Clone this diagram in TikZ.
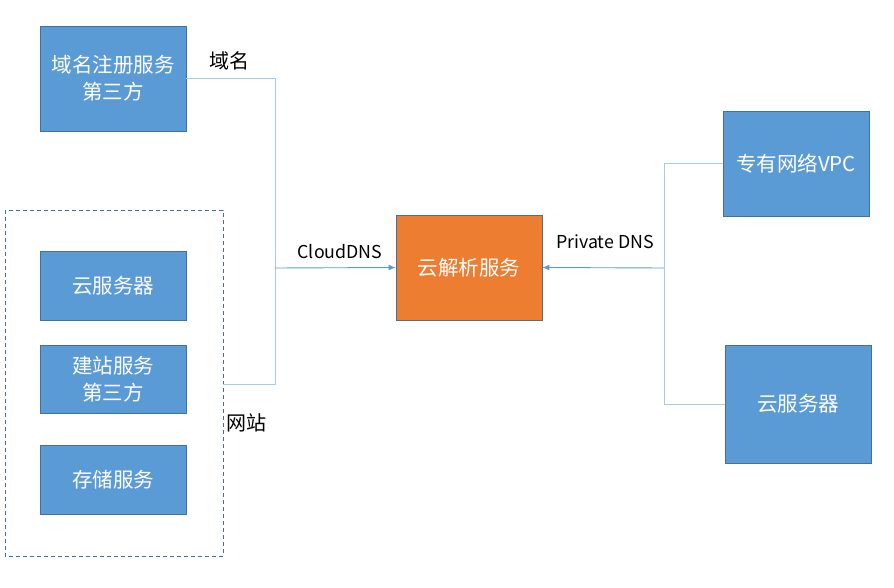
\documentclass[tikz,border=0pt]{standalone}
\usepackage{fontspec}
\setmainfont{Noto Sans CJK SC}
\usetikzlibrary{arrows.meta}
\definecolor{boxblue}{HTML}{5B9BD5}
\definecolor{boxedge}{HTML}{41719C}
\definecolor{boxorange}{HTML}{ED7D31}
\definecolor{linelight}{HTML}{A9CBEA}
\definecolor{linearrow}{HTML}{5B9BD5}
\tikzset{
  bluebox/.style={draw=boxedge, fill=boxblue, line width=0.8pt, text=white, font=\fontsize{20.5}{27}\selectfont, align=center, inner sep=0pt},
  orangebox/.style={draw=boxedge, fill=boxorange, line width=0.8pt, text=white, font=\fontsize{20.5}{27}\selectfont, align=center, inner sep=0pt},
  conn/.style={draw=linelight, line width=0.9pt},
  arr/.style={draw=linearrow, line width=0.9pt, -{Latex[length=7pt,width=6pt]}},
  lbl/.style={text=black, font=\fontsize{20}{24}\selectfont, inner sep=0pt},
  lbls/.style={text=black, font=\fontsize{17.8}{22}\selectfont, inner sep=0pt},
}
\begin{document}
\begin{tikzpicture}[x=1pt,y=-1pt]
\useasboundingbox (0,0) rectangle (894,588);
% dashed group
\draw[boxedge, dashed, line width=0.8pt, dash pattern=on 4pt off 3pt] (5,210) rectangle (223,556);
\coordinate (grpR) at (223,384);
% boxes
\node[bluebox, minimum width=146pt, minimum height=105pt] (reg) at (113,78.5) {域名注册服务\\第三方};
\node[bluebox, minimum width=146pt, minimum height=69pt] (ecs1) at (113,285.5) {云服务器};
\node[bluebox, minimum width=146pt, minimum height=68pt] (site) at (113,379) {建站服务\\第三方};
\node[bluebox, minimum width=146pt, minimum height=69pt] (oss) at (113,479.5) {存储服务};
\node[orangebox, minimum width=146pt, minimum height=105pt] (dns) at (469,267.5) {云解析服务};
\node[bluebox, minimum width=146pt, minimum height=105pt] (vpc) at (796,163.5) {专有网络VPC};
\node[bluebox, minimum width=146pt, minimum height=118pt] (ecs2) at (798,404) {云服务器};
% junctions
\coordinate (jl) at (275,268);
\coordinate (jr) at (664,268);
% connectors left
\draw[conn] (reg.east) -| (jl);
\draw[conn] (grpR) -| (jl);
\draw[arr] (jl) -- (dns.west);
% connectors right
\draw[conn] (vpc.west) -| (jr);
\draw[conn] (ecs2.west) -| (jr);
\draw[arr] (jr) -- (dns.east);
% labels
\node[lbl] (l1) at (229,61) {域名};
\node[lbl] (l2) at (246,423) {网站};
\node[lbls] (l3) at (340,252) {CloudDNS};
\node[lbls] (l4) at (605,242) {Private DNS};
\end{tikzpicture}
\end{document}
